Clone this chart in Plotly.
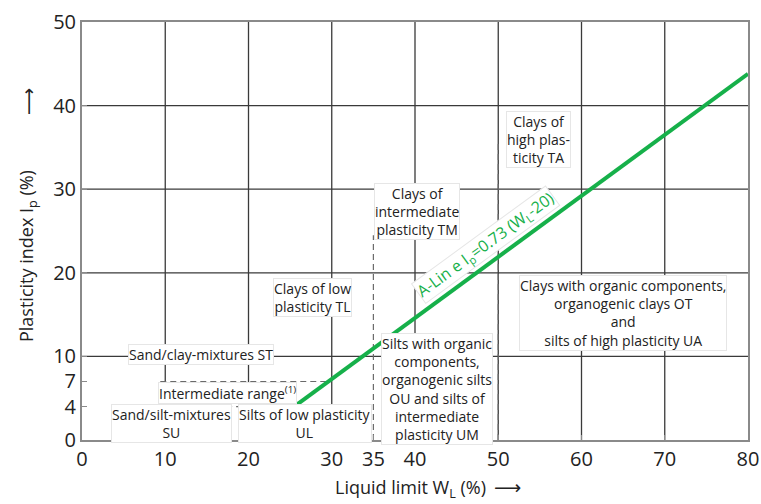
import plotly.graph_objects as go

# Plasticity chart (Casagrande) – liquid limit vs plasticity index
x_ticks = [0, 10, 20, 30, 35, 40, 50, 60, 70, 80]
y_ticks = [0, 4, 7, 10, 20, 30, 40, 50]
x_grid = [10, 20, 30, 40, 50, 60, 70]
y_grid = [10, 20, 30, 40]

# A-line: Ip = 0.73 (WL - 20), drawn from Ip = 4 up to WL = 80
a_line_wl = [25.48, 80]
a_line_ip = [0.73 * (w - 20) for w in a_line_wl]

# dashed boundaries (x list, y list)
dash_wl35 = ([35, 35], [0, 24.5])
dash_wl50 = ([50, 50], [0, 35.6])
dash_ip7 = ([9.4, 20 + 7 / 0.73], [7, 7])
dash_ip4 = ([5.3, 25.48], [4, 4])

# zone labels: (WL, Ip, text)
zone_labels = [
    (14.3, 10.2, "Sand/clay-mixtures ST"),
    (17.5, 5.6, "Intermediate range<sup>(1)</sup>"),
    (10.7, 2.0, "Sand/silt-mixtures<br>SU"),
    (26.8, 2.0, "Silts of low plasticity<br>UL"),
    (27.7, 17.0, "Clays of low<br>plasticity TL"),
    (40.2, 27.3, "Clays of<br>intermediate<br>plasticity TM"),
    (54.8, 35.9, "Clays of<br>high plas-<br>ticity TA"),
    (65.0, 15.2, "Clays with organic components,<br>organogenic clays OT<br>and<br>silts of high plasticity UA"),
    (42.7, 6.1, "Silts with organic<br>components,<br>organogenic silts<br>OU and silts of<br>intermediate<br>plasticity UM"),
]

GREEN = "#16b04a"
GRID = "#3a3a3a"
DASH = "#6a6a6a"
FONT = "Open Sans, DejaVu Sans, sans-serif"

# plot-area geometry in pixels (used to place the axis titles)
L, R, T, B = 82, 13, 22, 64
W, H = 761, 504
PW, PH = W - L - R, H - T - B


def px_to_paper(px, py):
    return (px - L) / PW, (H - B - py) / PH


fig = go.Figure()

for xs, ys in (dash_wl35, dash_wl50, dash_ip7, dash_ip4):
    fig.add_trace(go.Scatter(x=xs, y=ys, mode="lines",
                             line=dict(color=DASH, width=1.2, dash="6px,4px"),
                             hoverinfo="skip", showlegend=False))

fig.add_trace(go.Scatter(x=a_line_wl, y=a_line_ip, mode="lines",
                         line=dict(color=GREEN, width=4),
                         hoverinfo="skip", showlegend=False))

shapes = []
for gx in x_grid:
    shapes.append(dict(type="line", xref="x", yref="y", x0=gx, x1=gx, y0=0, y1=50,
                       line=dict(color=GRID, width=1.3), layer="below"))
for gy in y_grid:
    shapes.append(dict(type="line", xref="x", yref="y", x0=0, x1=80, y0=gy, y1=gy,
                       line=dict(color=GRID, width=1.3), layer="below"))

annotations = []
for wx, iy, txt in zone_labels:
    annotations.append(dict(x=wx, y=iy, xref="x", yref="y", text=txt, showarrow=False,
                            font=dict(family=FONT, size=14, color="#222"),
                            bgcolor="white", bordercolor="#e6e6e6", borderwidth=1,
                            borderpad=0, align="center"))

# A-line equation along the line
annotations.append(dict(x=48.5, y=23.4, xref="x", yref="y",
                        text="A-Lin e I<sub>p</sub>=0.73 (W<sub>L</sub>-20)",
                        showarrow=False, textangle=-36.2,
                        font=dict(family=FONT, size=16, color=GREEN),
                        bgcolor="white", bordercolor="#e6e6e6", borderwidth=1, borderpad=0))

# axis titles with arrows
tx, ty = px_to_paper(410, 488)
ax_, ay_ = px_to_paper(507, 487)
yx, yy = px_to_paper(28, 256)
bx, by = px_to_paper(28, 102)
annotations += [
    dict(xref="paper", yref="paper", x=tx, y=ty, xanchor="center", yanchor="middle",
         text="Liquid limit W<sub>L</sub> (%)", showarrow=False,
         font=dict(family=FONT, size=18, color="#222")),
    dict(xref="paper", yref="paper", x=ax_, y=ay_, xanchor="center", yanchor="middle",
         text="⟶", showarrow=False,
         font=dict(family="DejaVu Sans, sans-serif", size=19, color="#222")),
    dict(xref="paper", yref="paper", x=yx, y=yy, xanchor="center", yanchor="middle",
         text="Plasticity index I<sub>p</sub> (%)", showarrow=False, textangle=-90,
         font=dict(family=FONT, size=18, color="#222")),
    dict(xref="paper", yref="paper", x=bx, y=by, xanchor="center", yanchor="middle",
         text="⟶", showarrow=False, textangle=-90,
         font=dict(family="DejaVu Sans, sans-serif", size=19, color="#222")),
]

axis_common = dict(showgrid=False, zeroline=False, automargin=False,
                   showline=True, mirror=True, linecolor="#8a8a8a", linewidth=2,
                   ticks="inside", ticklen=5, tickcolor="#8a8a8a",
                   tickfont=dict(family=FONT, size=20, color="#222"))

fig.update_layout(
    width=W, height=H,
    margin=dict(l=L, r=R, t=T, b=B),
    paper_bgcolor="white", plot_bgcolor="white",
    font=dict(family=FONT, size=19, color="#222"),
    shapes=shapes, annotations=annotations,
    xaxis=dict(range=[0, 80], tickmode="array", tickvals=x_ticks,
               ticktext=[str(v) for v in x_ticks], **axis_common),
    yaxis=dict(range=[0, 50], tickmode="array", tickvals=y_ticks,
               ticktext=[str(v) for v in y_ticks], **axis_common),
)

fig.write_html("out.html")
